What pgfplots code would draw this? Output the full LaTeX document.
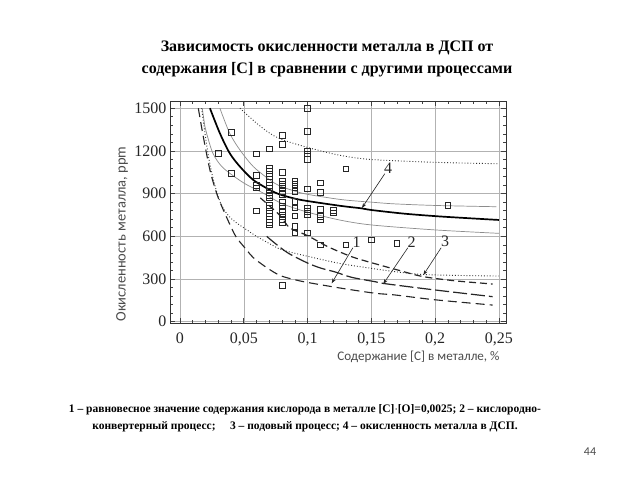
\documentclass[border=0pt]{standalone}
\usepackage{fontspec}
\setmainfont{Liberation Serif}
\newfontfamily\calib{Carlito}
\usepackage{pgfplots}
\pgfplotsset{compat=1.18}
\usetikzlibrary{arrows.meta}

\begin{document}
\begin{tikzpicture}[x=1pt,y=1pt]
\useasboundingbox[fill=white] (0,0) rectangle (640,480);

% title
\node[align=center,font=\bfseries\fontsize{16}{22}\selectfont] at (327,421)
 {Зависимость окисленности металла в ДСП от\\содержания [С] в сравнении с другими процессами};

\begin{axis}[
  at={(170pt,157pt)}, anchor=south west,
  scale only axis, width=336pt, height=222pt,
  xmin=-0.0078, xmax=0.2555, ymin=-9, ymax=1551,
  xtick={0,0.05,0.1,0.15,0.2,0.25},
  xticklabels={0,{0,05},{0,1},{0,15},{0,2},{0,25}},
  ytick={0,300,600,900,1200,1500},
  yticklabels={0,300,600,900,1200,1500},
  minor x tick num=4, minor y tick num=4,
  tick pos=both, ticklabel pos=left,
  tick align=inside,
  major tick length=5pt, minor tick length=3pt,
  tick style={black!75, line width=0.6pt},
  axis line style={black!80, line width=0.9pt},
  grid=major, major grid style={black!30, line width=0.5pt},
  ticklabel style={font=\fontsize{16}{16}\selectfont, text=black!85},
  xticklabel style={yshift=-6pt},
  clip=true,
]
% curve 4 (thick solid)
\addplot[black, line width=1.7pt, smooth] coordinates {
 (0.0235,1500) (0.0313,1324) (0.039,1184) (0.047,1090) (0.0575,996)
 (0.0705,926) (0.078,895) (0.09,865) (0.1,848) (0.1267,813) (0.142,797)
 (0.15,785) (0.175,760) (0.2,742) (0.225,728) (0.25,715)};
% upper thin band
\addplot[black!45, line width=0.7pt, smooth] coordinates {
 (0.0313,1500) (0.039,1324) (0.047,1207) (0.0575,1090) (0.0705,996)
 (0.078,955) (0.09,918) (0.1,895) (0.1267,858) (0.153,838) (0.1685,828)
 (0.2,817) (0.248,808)};
% lower thin band
\addplot[black!45, line width=0.7pt, smooth] coordinates {
 (0.0175,1500) (0.0196,1370) (0.021,1320) (0.026,1180) (0.034,1080)
 (0.05,975) (0.065,905) (0.08,830) (0.1,770) (0.125,715) (0.15,680)
 (0.2,645) (0.25,621)};
% upper dotted
\addplot[black!80, line width=0.9pt, dotted, smooth] coordinates {
 (0.047,1500) (0.06,1395) (0.0705,1324) (0.08,1280) (0.1,1225) (0.125,1170)
 (0.15,1140) (0.2,1120) (0.25,1110)};
% lower dotted
\addplot[black!80, line width=0.9pt, dotted, smooth] coordinates {
 (0.017,1500) (0.02,1300) (0.023,1130) (0.027,970) (0.032,830) (0.038,745)
 (0.045,690) (0.05,660) (0.06,600) (0.07,550) (0.08,505) (0.1,460)
 (0.125,410) (0.15,375) (0.17,350) (0.19,332) (0.22,325) (0.25,321)};
% curve 1 (lowest, dashed)
\addplot[black!85, line width=1.1pt, dash pattern=on 9pt off 5pt, smooth] coordinates {
 (0.0144,1500) (0.0183,1300) (0.0235,1066) (0.0287,903) (0.034,785)
 (0.0405,657) (0.0444,590) (0.0523,504) (0.0575,450) (0.068,380)
 (0.0784,325) (0.09,295) (0.1006,275) (0.1267,235) (0.153,200)
 (0.1685,188) (0.2,154) (0.245,117)};
% curve 2 (middle, long dash)
\addplot[black!85, line width=1.2pt, dash pattern=on 14pt off 4pt, smooth] coordinates {
 (0.068,600) (0.0745,551) (0.085,481) (0.1006,410) (0.111,375) (0.1215,350)
 (0.1345,312) (0.153,281) (0.161,267) (0.2,223) (0.245,176)};
% curve 3 (upper, dashed)
\addplot[black!85, line width=1.2pt, dash pattern=on 7pt off 4pt, smooth] coordinates {
 (0.063,870) (0.078,750) (0.086,660) (0.1,605) (0.116,527) (0.1345,457)
 (0.15,415) (0.17,365) (0.19,318) (0.215,288) (0.245,265)};
% measured points
\addplot[only marks, mark=square, mark size=2.8pt,
  mark options={draw=black!85, fill=white, line width=0.6pt}] coordinates {
 (0.03,1185)
 (0.04,1330) (0.04,1045)
 (0.06,1180) (0.06,1030) (0.06,960) (0.06,940) (0.06,780)
 (0.07,1215) (0.07,1080) (0.07,1060) (0.07,1040) (0.07,1020) (0.07,1000)
 (0.07,980) (0.07,960) (0.07,940) (0.07,920) (0.07,905) (0.07,890) (0.07,870)
 (0.07,820) (0.07,800) (0.07,780) (0.07,760) (0.07,740) (0.07,720) (0.07,700) (0.07,680)
 (0.08,1310) (0.08,1245) (0.08,1050) (0.08,990) (0.08,965) (0.08,940) (0.08,915)
 (0.08,895) (0.08,840) (0.08,810) (0.08,775) (0.08,750) (0.08,720) (0.08,700) (0.08,255)
 (0.09,990) (0.09,965) (0.09,940) (0.09,915) (0.09,845) (0.09,800) (0.09,745)
 (0.09,670) (0.09,625)
 (0.1,1500) (0.1,1340) (0.1,1200) (0.1,1180) (0.1,1140) (0.1,935) (0.1,800)
 (0.1,775) (0.1,750) (0.1,625)
 (0.11,975) (0.11,910) (0.11,790) (0.11,740) (0.11,715) (0.11,540)
 (0.12,785) (0.12,765)
 (0.13,1075) (0.13,540)
 (0.15,575) (0.17,550) (0.21,820)};
% annotations
\draw[black!85, line width=0.6pt, -{Stealth[length=5pt,width=3.5pt]}]
  (axis cs:0.1605,1040) -- (axis cs:0.1426,799);
\node[font=\fontsize{16}{16}\selectfont, text=black!85] at (axis cs:0.1632,1080) {4};
\draw[black!85, line width=0.6pt, -{Stealth[length=5pt,width=3.5pt]}]
  (axis cs:0.1355,520) -- (axis cs:0.1189,270);
\node[font=\fontsize{16}{16}\selectfont, text=black!85] at (axis cs:0.1385,562) {1};
\draw[black!85, line width=0.6pt, -{Stealth[length=5pt,width=3.5pt]}]
  (axis cs:0.1786,520) -- (axis cs:0.1593,265);
\node[font=\fontsize{16}{16}\selectfont, text=black!85] at (axis cs:0.1816,562) {2};
\draw[black!85, line width=0.6pt, -{Stealth[length=5pt,width=3.5pt]}]
  (axis cs:0.2047,520) -- (axis cs:0.1907,328);
\node[font=\fontsize{16}{16}\selectfont, text=black!85] at (axis cs:0.2077,562) {3};
\end{axis}

% axis labels
\node[font=\calib\fontsize{13.1}{14}\selectfont, text=black!70] at (418.5,123)
 {Содержание [C] в металле, \%};
\node[rotate=90, font=\calib\fontsize{14.5}{15}\selectfont, text=black!70] at (122,246)
 {Окисленность металла, ppm};

% caption
\node[align=center, font=\bfseries\fontsize{11.5}{17}\selectfont] at (305,61.5)
 {1 – равновесное значение содержания кислорода в металле [C]$\cdot$[O]=0,0025; 2 – кислородно-\\
  конвертерный процесс;\quad\ 3 – подовый процесс; 4 – окисленность металла в ДСП.};

% page number
\node[font=\calib\fontsize{12}{14}\selectfont, text=black!70] at (590,28) {44};
\end{tikzpicture}
\end{document}
